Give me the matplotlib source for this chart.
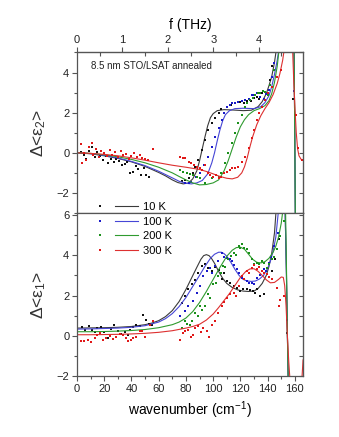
import numpy as np
import matplotlib
matplotlib.use("Agg")
import matplotlib.pyplot as plt
from matplotlib.legend_handler import HandlerTuple

plt.rcParams['font.family'] = ['Liberation Sans', 'DejaVu Sans']
plt.rcParams['mathtext.fontset'] = 'custom'
plt.rcParams['mathtext.rm'] = 'Liberation Sans'
plt.rcParams['mathtext.it'] = 'Liberation Sans'
plt.rcParams['mathtext.default'] = 'regular'

# ---------------- data (wavenumber in cm^-1) ----------------
temps = ['10 K', '100 K', '200 K', '300 K']

# --- measured points, top panel: Delta<eps2> ---
e2_10K_x = [3, 5, 7, 9, 11, 13, 15, 17, 19, 21, 23, 25, 27, 29, 31, 33, 35, 37, 39, 41, 43, 45, 47, 49, 51, 53,
            77, 79, 82, 85, 87, 89, 92, 94, 96.5, 99, 101.5, 104, 106, 110, 113, 116, 120, 123, 125, 128, 130, 132,
            134, 136, 138, 140, 142, 143.5, 158.6]
e2_10K_y = [0.05, -0.1, -0.3, 0.1, 0.3, -0.2, 0.05, -0.15, -0.35, -0.15, -0.5, -0.3, -0.45, -0.3, -0.4, -0.6,
            -0.55, -0.45, -1.0, -0.95, -0.65, -0.8, -1.1, -0.75, -1.1, -1.2,
            -1.4, -1.37, -1.25, -1.03, -0.7, -0.37, 0.13, 0.63, 1.13, 1.5, 1.72, 1.97, 2.2, 2.3, 2.4, 2.47, 2.55,
            2.5, 2.6, 2.6, 2.72, 2.77, 2.7, 2.97, 3.05, 2.9, 3.63, 4.3, 2.7]
e2_100K_x = [79, 82, 84, 87.5, 90.5, 93, 96.5, 99, 101.5, 104, 106.5, 108, 110, 112, 114, 116, 118.5, 121, 123.5,
             126, 128.5, 130, 132, 134.5, 137, 139, 141, 143, 145, 159]
e2_100K_y = [-1.53, -1.5, -1.45, -1.2, -1.03, -0.62, -0.2, 0.3, 0.8, 1.22, 1.63, 1.97, 2.3, 2.4, 2.47, 2.5, 2.55,
             2.6, 2.63, 2.7, 2.88, 2.9, 2.97, 2.8, 2.7, 2.95, 3.13, 3.8, 4.47, 3.1]
e2_200K_x = [75.5, 78, 80.5, 83, 85.5, 88, 90.5, 94, 99, 104, 106, 109, 111, 113.5, 116, 118.5, 121, 123.5, 125,
             127, 129, 131, 133, 134.5, 136.5, 138, 140, 142, 144.3]
e2_200K_y = [-0.87, -0.95, -1.03, -1.05, -1.12, -1.2, -1.28, -1.53, -1.28, -1.2, -1.03, -0.53, -0.03, 0.47, 0.97,
             1.47, 1.88, 2.3, 2.5, 2.63, 2.75, 2.88, 3.0, 2.97, 3.1, 3.05, 2.9, 3.38, 4.13]
e2_300K_x = [3, 3.5, 5, 7, 9, 11, 12, 14, 16, 18, 20, 22, 24, 26, 28, 30, 32, 34, 36, 38, 40, 42, 44, 46, 48, 50,
             52, 55.5, 75.5, 77.5, 79.5, 82, 84, 86, 88, 90, 92, 94, 96, 98, 100, 102, 104, 106, 108, 110, 112,
             114, 116, 118.5, 121, 123.5, 126, 128.5, 130, 132, 133.5, 136, 138, 140.5, 143.5, 147, 149.5,
             161, 162, 165]
e2_300K_y = [0.45, -0.5, 0.0, -0.35, 0.3, 0.5, -0.1, 0.2, -0.2, 0.1, 0.0, -0.15, 0.15, -0.1, 0.05, -0.2, 0.1,
             -0.1, -0.05, -0.3, -0.15, 0.0, -0.2, -0.1, -0.25, -0.3, -0.35, 0.2,
             -0.2, -0.25, -0.28, -0.45, -0.53, -0.6, -0.7, -0.78, -0.87, -0.6, -1.03, -1.1, -1.2, -1.1, -1.28,
             -1.2, -1.0, -0.95, -0.85, -0.78, -0.75, -0.7, -0.45, -0.2, 0.22, 0.72, 1.13, 1.63, 1.97, 2.3, 2.63,
             2.97, 3.3, 3.8, 4.13, 1.9, 0.22, -0.37]

# --- fitted curves, top panel ---
f2_10K_x = [0, 10, 20, 30, 40, 50, 60, 65, 70, 74, 78, 82, 85, 88, 90, 92, 94, 96, 98, 100, 103, 108, 115, 122,
            128, 133, 136, 139, 141, 143, 145, 146.5, 148, 156.5, 158.5, 159.4, 159.9, 160.3, 160.6]
f2_10K_y = [0, -0.05, -0.15, -0.28, -0.45, -0.68, -0.98, -1.15, -1.35, -1.48, -1.55, -1.5, -1.3, -0.9, -0.4,
            0.2, 0.8, 1.35, 1.75, 1.95, 2.1, 2.15, 2.13, 2.1, 2.12, 2.3, 2.55, 2.95, 3.35, 3.8, 4.5, 5.2, 6.0,
            8, 9, 5, 1, -3, -5]
f2_100K_x = [0, 10, 20, 30, 40, 50, 60, 70, 75, 80, 84, 88, 92, 96, 99, 101, 103, 105, 107, 109, 112, 116, 122,
             130, 135, 138, 141, 143, 145, 147, 149, 156.5, 158.5, 159.4, 159.9, 160.3, 160.6]
f2_100K_y = [0, -0.04, -0.13, -0.26, -0.43, -0.64, -0.92, -1.25, -1.42, -1.52, -1.55, -1.5, -1.38, -1.05, -0.5,
             0.0, 0.6, 1.15, 1.6, 1.9, 2.1, 2.2, 2.22, 2.2, 2.3, 2.5, 2.85, 3.3, 3.9, 4.6, 5.5,
             8, 9, 5, 1, -3, -5]
f2_200K_x = [0, 10, 20, 30, 40, 50, 60, 70, 75, 80, 85, 90, 95, 100, 104, 108, 111, 114, 117, 120, 123, 126,
             130, 134, 138, 141, 143, 145, 147, 149, 156.5, 158.5, 159.4, 159.9, 160.3, 160.6]
f2_200K_y = [0, -0.03, -0.1, -0.2, -0.33, -0.5, -0.72, -1.0, -1.18, -1.35, -1.5, -1.6, -1.58, -1.5, -1.35,
             -0.9, -0.4, 0.2, 0.8, 1.3, 1.65, 1.9, 2.1, 2.2, 2.35, 2.6, 2.95, 3.5, 4.3, 5.5,
             8, 9, 5, 1, -3, -5]
f2_300K_x = [0, 10, 20, 30, 40, 50, 60, 70, 80, 90, 95, 100, 105, 110, 114, 118, 121, 123, 125, 127, 129, 132,
             135, 138, 141, 144, 147, 149, 151, 152.5, 157.5, 158.4, 159.2, 160, 161, 162, 163, 164.5, 166]
f2_300K_y = [0, -0.03, -0.08, -0.15, -0.25, -0.37, -0.5, -0.62, -0.72, -0.83, -0.93, -1.05, -1.18, -1.27, -1.3,
             -1.22, -1.0, -0.7, -0.25, 0.3, 0.8, 1.4, 1.85, 2.2, 2.5, 2.9, 3.45, 3.95, 4.6, 5.3,
             8, 5, 3.5, 2.3, 1.0, 0.2, -0.15, -0.32, -0.38]

# --- measured points, bottom panel: Delta<eps1> ---
e1_10K_x = [4, 6, 8.5, 11, 13, 15, 17.5, 20, 22.5, 25, 27.5, 30, 32.5, 35, 37.5, 39, 41, 43.5, 46, 48.5, 51,
            53, 55, 77, 79.3, 81.8, 84.3, 86.5, 89, 91.6, 94, 96.5, 99, 101.5, 104, 106.3, 108, 110, 112.5, 115,
            117.5, 119.8, 122, 124.7, 127, 129.6, 131, 132.5, 134.5, 137, 143, 145.6, 148, 154.4]
e1_10K_y = [0.45, 0.3, 0.47, 0.3, 0.2, 0.4, 0.45, 0.2, -0.1, 0.35, 0.55, 0.25, 0.1, 0.2, 0.05, 0.3, 0.45, 0.55,
            0.5, 1.05, 0.8, 0.6, 0.55, 1.63, 1.97, 2.3, 2.55, 2.75, 3.13, 3.47, 3.55, 3.38, 3.22, 3.4, 3.25, 2.8,
            3.1, 2.72, 2.6, 2.47, 2.35, 2.22, 2.3, 2.3, 2.25, 2.22, 2.13, 2.3, 1.97, 2.05, 3.22, 3.8, 4.8, 0.13]
e1_100K_x = [75.6, 79.3, 81.8, 85.4, 87.9, 90.4, 92.8, 95.3, 97.7, 99.5, 101.4, 103.8, 106.3, 108, 110, 112,
             113.7, 115.5, 117.4, 119, 121, 123, 124.7, 126.5, 128.4, 130, 132, 134.5, 137, 139, 140.7, 142.5,
             144.4, 147.3, 154.4]
e1_100K_y = [0.97, 1.22, 1.47, 1.72, 2.13, 2.47, 2.97, 3.22, 3.38, 3.1, 3.47, 3.72, 4.13, 3.9, 3.88, 3.8, 3.72,
             3.5, 3.3, 3.1, 2.88, 2.8, 2.72, 2.6, 2.63, 2.55, 2.88, 3.0, 3.3, 3.2, 3.63, 3.9, 4.47, 5.13, 0.8]
e1_200K_x = [76.9, 79.3, 81, 83, 84.5, 86.7, 88.5, 90.4, 92, 94, 96.5, 98, 100.2, 102, 103.8, 105.5, 107.5, 109,
             111.2, 113, 115, 117, 118.6, 120, 121, 123, 124.7, 126.5, 128.4, 130, 132, 134, 135.8, 137.5, 139.5,
             141, 143, 145, 146.8, 149.2, 151.7]
e1_200K_y = [0.38, 0.72, 0.6, 0.55, 0.75, 1.13, 1.0, 1.47, 1.3, 1.47, 2.05, 1.9, 2.55, 2.6, 2.97, 3.1, 3.47,
             3.4, 3.8, 3.95, 4.13, 4.0, 4.47, 4.35, 4.55, 4.35, 4.3, 4.1, 3.8, 3.55, 3.63, 3.55, 3.72, 3.6, 3.38,
             3.55, 3.8, 3.9, 4.3, 4.97, 5.72]
e1_300K_x = [3.2, 5.5, 8, 10.5, 13, 15, 16.6, 19, 21.5, 24, 26.5, 29, 31.5, 34, 36, 37.5, 39.5, 41.3, 43.7,
             46.2, 48, 50, 53.5, 56, 75.6, 77.5, 79.3, 81.8, 83.5, 85.4, 87, 89.1, 91, 92.8, 95.3, 97, 99, 101.4,
             103.8, 106.3, 108, 110, 112.5, 115, 116.5, 118.6, 121, 122.5, 124.7, 126.5, 128.4, 130, 132, 134,
             135.8, 137.5, 139.5, 141, 143, 146.8, 148, 149.2, 151.7]
e1_300K_y = [-0.28, -0.25, -0.2, -0.3, -0.1, 0.05, 0.13, -0.2, -0.1, 0.0, -0.15, -0.05, 0.1, 0.05, -0.1, -0.28,
             -0.2, -0.12, -0.05, 0.22, 0.25, -0.05, 0.55, 0.72, -0.2, 0.15, 0.22, 0.3, -0.05, 0.05, 0.4, 0.47,
             0.2, 0.38, 0.22, -0.05, 0.55, 0.72, 1.13, 1.47, 1.7, 1.88, 2.05, 2.13, 2.0, 2.47, 2.97, 2.8, 3.22,
             3.1, 3.38, 3.5, 3.3, 3.4, 3.22, 3.1, 3.05, 2.9, 2.8, 2.38, 1.5, 1.8, 1.97]

# --- fitted curves, bottom panel ---
f1_10K_x = [0, 10, 20, 30, 40, 50, 55, 60, 65, 70, 75, 80, 84, 88, 91, 93, 95, 97, 99, 101, 104, 107, 110, 114,
            118, 122, 126, 130, 133, 136, 139, 141, 143, 145, 146.5, 152, 153.8, 154.5, 155.3]
f1_10K_y = [0.38, 0.39, 0.4, 0.42, 0.46, 0.55, 0.63, 0.75, 0.95, 1.25, 1.7, 2.3, 2.85, 3.4, 3.8, 3.98, 4.03,
            3.98, 3.82, 3.6, 3.2, 2.85, 2.6, 2.4, 2.28, 2.22, 2.2, 2.22, 2.35, 2.6, 3.0, 3.45, 4.1, 5.1, 6.5,
            9, 3, 0, -3]
f1_100K_x = [0, 10, 20, 30, 40, 50, 60, 65, 70, 75, 80, 85, 90, 94, 98, 101, 104, 106, 108, 110, 113, 116, 119,
             122, 125, 128, 131, 134, 137, 140, 142, 144, 146, 148.5, 152, 153.8, 154.5, 155.3]
f1_100K_y = [0.33, 0.34, 0.36, 0.38, 0.42, 0.5, 0.68, 0.85, 1.1, 1.45, 1.9, 2.45, 3.0, 3.45, 3.85, 4.05, 4.15,
             4.15, 4.08, 3.95, 3.65, 3.3, 3.0, 2.8, 2.72, 2.7, 2.72, 2.82, 3.0, 3.35, 3.7, 4.2, 4.9, 6.6,
             9, 3, 0, -3]
f1_200K_x = [0, 10, 20, 30, 40, 50, 60, 70, 75, 80, 85, 90, 95, 100, 105, 110, 114, 117, 120, 123, 126, 129,
             132, 135, 138, 141, 144, 146, 148, 150, 151.5, 152.5, 153.9, 154.5, 155.3]
f1_200K_y = [0.2, 0.2, 0.21, 0.23, 0.26, 0.31, 0.4, 0.55, 0.68, 0.88, 1.2, 1.65, 2.2, 2.8, 3.4, 3.95, 4.25,
             4.38, 4.4, 4.3, 4.05, 3.8, 3.65, 3.62, 3.68, 3.85, 4.15, 4.45, 4.9, 5.6, 6.4, 9, 3, 0, -3]
f1_300K_x = [0, 10, 20, 30, 40, 50, 60, 70, 80, 85, 90, 95, 100, 104, 108, 112, 116, 120, 124, 127, 130, 133,
             136, 139, 142, 145, 148, 150, 151.5, 152.5, 153.5, 154.5, 155.5, 156.5, 157.5, 160, 165, 166]
f1_300K_y = [0.05, 0.05, 0.06, 0.07, 0.09, 0.12, 0.17, 0.25, 0.38, 0.46, 0.57, 0.78, 1.08, 1.4, 1.75, 2.1, 2.5,
             2.9, 3.2, 3.32, 3.33, 3.2, 3.0, 2.78, 2.63, 2.65, 2.8, 2.92, 2.9, 2.5, 1.5, 0.0, -1.3, -2.3, -3.2,
             -9, -2.3, -1.2]

thz_ticks = [0, 1, 2, 3, 4]
cm_per_thz = 33.356

pt_colors = ['#111111', '#1a1ac8', '#1a8f1a', '#e01818']
ln_colors = ['#3a3a3a', '#4646d6', '#2f9b2f', '#dd3030']
spine_c = '#555555'

# ---------------- figure ----------------
fig = plt.figure(figsize=(3.39, 4.37), dpi=100)
ax2 = fig.add_axes([0.227, 0.5126, 0.667, 0.3674])
ax1 = fig.add_axes([0.227, 0.1396, 0.667, 0.373])

top_pts = [(e2_10K_x, e2_10K_y), (e2_100K_x, e2_100K_y), (e2_200K_x, e2_200K_y), (e2_300K_x, e2_300K_y)]
top_fit = [(f2_10K_x, f2_10K_y), (f2_100K_x, f2_100K_y), (f2_200K_x, f2_200K_y), (f2_300K_x, f2_300K_y)]
bot_pts = [(e1_10K_x, e1_10K_y), (e1_100K_x, e1_100K_y), (e1_200K_x, e1_200K_y), (e1_300K_x, e1_300K_y)]
bot_fit = [(f1_10K_x, f1_10K_y), (f1_100K_x, f1_100K_y), (f1_200K_x, f1_200K_y), (f1_300K_x, f1_300K_y)]

handles = []
for i in range(4):
    ax2.plot(*top_fit[i], color=ln_colors[i], lw=0.8)
    ax2.plot(*top_pts[i], ls='none', marker='s', ms=1.9, mew=0, color=pt_colors[i])
    ln, = ax1.plot(*bot_fit[i], color=ln_colors[i], lw=0.8)
    pt, = ax1.plot(*bot_pts[i], ls='none', marker='s', ms=1.9, mew=0, color=pt_colors[i])
    handles.append((pt, ln))

for ax in (ax1, ax2):
    ax.set_xlim(0, 166)
    for s in ax.spines.values():
        s.set_color(spine_c)
        s.set_linewidth(0.9)
    ax.tick_params(which='both', direction='out', colors=spine_c, labelcolor='#222222',
                   labelsize=8, width=0.8, right=False, top=False)
    ax.tick_params(which='major', length=3.5, pad=2)
    ax.tick_params(which='minor', length=2)
    ax.set_yticks(np.arange(-2, 7, 2))
    ax.set_yticks(np.arange(-3, 7, 1), minor=True)
    r = ax.secondary_yaxis('right')
    r.set_yticks(np.arange(-3, 7, 1))
    r.tick_params(direction='in', length=3, colors=spine_c, labelright=False, width=0.8)
    r.spines['right'].set_color(spine_c)

ax2.set_ylim(-3, 5)
ax1.set_ylim(-2, 6.1)
ax2.tick_params(axis='x', which='both', bottom=False, labelbottom=False)
ax1.set_xticks(np.arange(0, 161, 20))
ax1.set_xticks(np.arange(0, 166, 10), minor=True)

top = ax2.secondary_xaxis('top', functions=(lambda w: w / cm_per_thz, lambda f: f * cm_per_thz))
top.set_xticks(thz_ticks)
top.set_xticks(np.arange(0.5, 5, 1), minor=True)
top.tick_params(which='major', direction='out', length=3.5, colors=spine_c, labelcolor='#222222',
                labelsize=8, pad=2, width=0.8)
top.tick_params(which='minor', direction='in', length=3, colors=spine_c, width=0.8)
top.set_xlabel('f (THz)', fontsize=10, labelpad=4)

ax2.text(0.06, 0.895, '8.5 nm STO/LSAT annealed', transform=ax2.transAxes, fontsize=7, color='#222222')

ax2.set_ylabel(r'$\Delta$<$\varepsilon_2$>', fontsize=12.5, color='#333333')
ax1.set_ylabel(r'$\Delta$<$\varepsilon_1$>', fontsize=12.5, color='#333333')
ax1.set_xlabel(r'wavenumber (cm$^{-1}$)', fontsize=10, labelpad=4)
ax2.yaxis.set_label_coords(-0.13, 0.5)
ax1.yaxis.set_label_coords(-0.13, 0.5)

fig.legend(handles, temps, handler_map={tuple: HandlerTuple(ndivide=None, pad=0.32)},
           loc='upper left', bbox_to_anchor=(0.261, 0.538), frameon=False, fontsize=8,
           handlelength=4.46, handletextpad=0.45, labelspacing=0.42, borderpad=0, borderaxespad=0)

fig.savefig('out.png', dpi=100)
